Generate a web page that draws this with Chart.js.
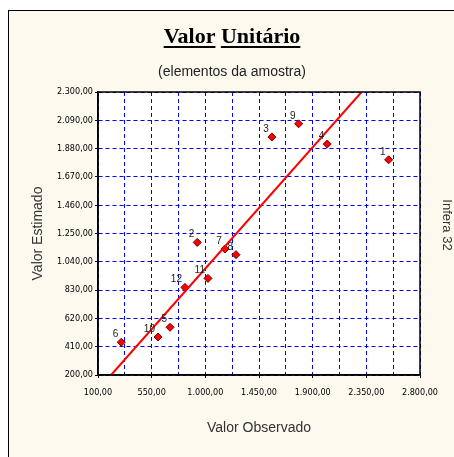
<!DOCTYPE html>
<html>
<head>
<meta charset="utf-8">
<script src="https://cdn.jsdelivr.net/npm/chart.js@4"></script>
<style>
body { margin: 0; background: #fff; }
#wrap { width: 454px; height: 457px; position: relative; }
</style>
</head>
<body>
<div id="wrap"><canvas id="chart"></canvas></div>
<script>
// sample points (Valor Observado x Valor Estimado)
var pointLabels = ["1","2","3","4","5","6","7","8","9","10","11","12"];
var observado = [2537, 932, 1558, 2022, 704, 295, 1164, 1257, 1782, 603, 1022, 829];
var estimado  = [1797, 1184, 1966, 1914, 554, 443, 1135, 1093, 2064, 482, 917, 850];
// fitted line end points
var lineX = [210, 2310];
var lineY = [200, 2300];
var xMin = 100, xMax = 2800, xStep = 225, xLabelStep = 450;
var yMin = 200, yMax = 2300, yStep = 210;

function fmt(v) {
  var s = String(Math.round(v));
  s = s.replace(/\B(?=(\d{3})+(?!\d))/g, ".");
  return s + ",00";
}

var pts = [];
for (var i = 0; i < observado.length; i++) {
  pts.push({x: observado[i], y: estimado[i]});
}
var linePts = [];
for (var j = 0; j < lineX.length; j++) {
  linePts.push({x: lineX[j], y: lineY[j]});
}

var tickFont = {family: "'Liberation Sans Narrow', 'DejaVu Sans Condensed', 'Liberation Sans'", size: 9};

var decor = {
  id: "decor",
  beforeDraw: function(chart) {
    var ctx = chart.ctx, a = chart.chartArea;
    ctx.save();
    ctx.fillStyle = "#fff";
    ctx.fillRect(0, 0, chart.width, chart.height);
    ctx.fillStyle = "#fdf9ee";
    ctx.fillRect(8, 10, chart.width, chart.height);
    ctx.strokeStyle = "#000";
    ctx.lineWidth = 1;
    ctx.strokeRect(8.5, 10.5, chart.width + 10, chart.height + 10);
    ctx.fillStyle = "#fff";
    ctx.fillRect(a.left, a.top, a.right - a.left, a.bottom - a.top);

    // title with underlined words
    ctx.fillStyle = "#000";
    ctx.font = "bold 22px 'Liberation Serif'";
    ctx.textBaseline = "alphabetic";
    var words = ["Valor", "Unitário"];
    var gap = ctx.measureText(" ").width;
    var total = ctx.measureText(words.join(" ")).width;
    var x = 232 - total / 2;
    for (var k = 0; k < words.length; k++) {
      var w = ctx.measureText(words[k]).width;
      ctx.fillText(words[k], x, 43);
      ctx.fillRect(x, 46, w, 2);
      x += w + gap;
    }

    ctx.fillStyle = "#222";
    ctx.font = "14px 'Liberation Sans'";
    ctx.textAlign = "center";
    ctx.textBaseline = "middle";
    ctx.fillText("(elementos da amostra)", 232, 72);

    ctx.translate(447, 225);
    ctx.rotate(Math.PI / 2);
    ctx.font = "13px 'Liberation Sans'";
    ctx.fillStyle = "#333";
    ctx.fillText("Infera 32", 0, 0);
    ctx.restore();
  },
  afterDraw: function(chart) {
    var ctx = chart.ctx, a = chart.chartArea;
    ctx.save();
    ctx.strokeStyle = "#000";
    ctx.lineWidth = 1.5;
    ctx.strokeRect(a.left, a.top, a.right - a.left, a.bottom - a.top);

    var meta = chart.getDatasetMeta(1);
    ctx.fillStyle = "#222";
    ctx.font = "10px 'Liberation Sans'";
    ctx.textAlign = "right";
    ctx.textBaseline = "alphabetic";
    for (var i = 0; i < meta.data.length; i++) {
      var p = meta.data[i];
      ctx.fillText(pointLabels[i], p.x - 3, p.y - 5);
    }
    ctx.restore();
  }
};

new Chart(document.getElementById("chart"), {
  type: "scatter",
  data: {
    datasets: [
      {
        label: "reta",
        data: linePts,
        showLine: true,
        borderColor: "#ff0000",
        borderWidth: 2,
        pointRadius: 0,
        fill: false
      },
      {
        label: "amostra",
        data: pts,
        pointStyle: "rectRot",
        pointRadius: 4,
        backgroundColor: "#ff0000",
        borderColor: "#700000",
        borderWidth: 1
      }
    ]
  },
  options: {
    responsive: true,
    maintainAspectRatio: false,
    animation: false,
    layout: {padding: {left: 20, right: 34, top: 92, bottom: 20}},
    plugins: {legend: {display: false}, tooltip: {enabled: false}},
    scales: {
      x: {
        type: "linear",
        min: xMin, max: xMax,
        afterFit: function(s) { s.height = 62; },
        grid: {
          color: "#0000ff",
          lineWidth: 1,
          tickLength: 3,
          tickColor: function(c) {
            return c.tick && (c.tick.value - xMin) % xLabelStep === 0 ? "#000" : "rgba(0,0,0,0)";
          }
        },
        border: {display: true, color: "#000", width: 1.5, dash: [4, 3]},
        ticks: {
          stepSize: xStep,
          autoSkip: false,
          maxRotation: 0,
          padding: 9,
          color: "#000",
          font: tickFont,
          callback: function(v) {
            return (v - xMin) % xLabelStep === 0 ? fmt(v) : "";
          }
        },
        title: {
          display: true,
          text: "Valor Observado",
          color: "#333",
          font: {family: "'Liberation Sans'", size: 14},
          padding: {top: 0, bottom: 0}
        }
      },
      y: {
        type: "linear",
        min: yMin, max: yMax,
        afterFit: function(s) { s.width = 78; },
        grid: {color: "#0000ff", lineWidth: 1, tickLength: 3, tickColor: "#000"},
        border: {display: true, color: "#000", width: 1.5, dash: [4, 3]},
        ticks: {
          stepSize: yStep,
          autoSkip: false,
          padding: 2,
          color: "#000",
          font: tickFont,
          callback: function(v) { return fmt(v); }
        },
        title: {
          display: true,
          text: "Valor Estimado",
          color: "#333",
          font: {family: "'Liberation Sans'", size: 14},
          padding: {top: 10, bottom: 0}
        }
      }
    }
  },
  plugins: [decor]
});
</script>
</body>
</html>
